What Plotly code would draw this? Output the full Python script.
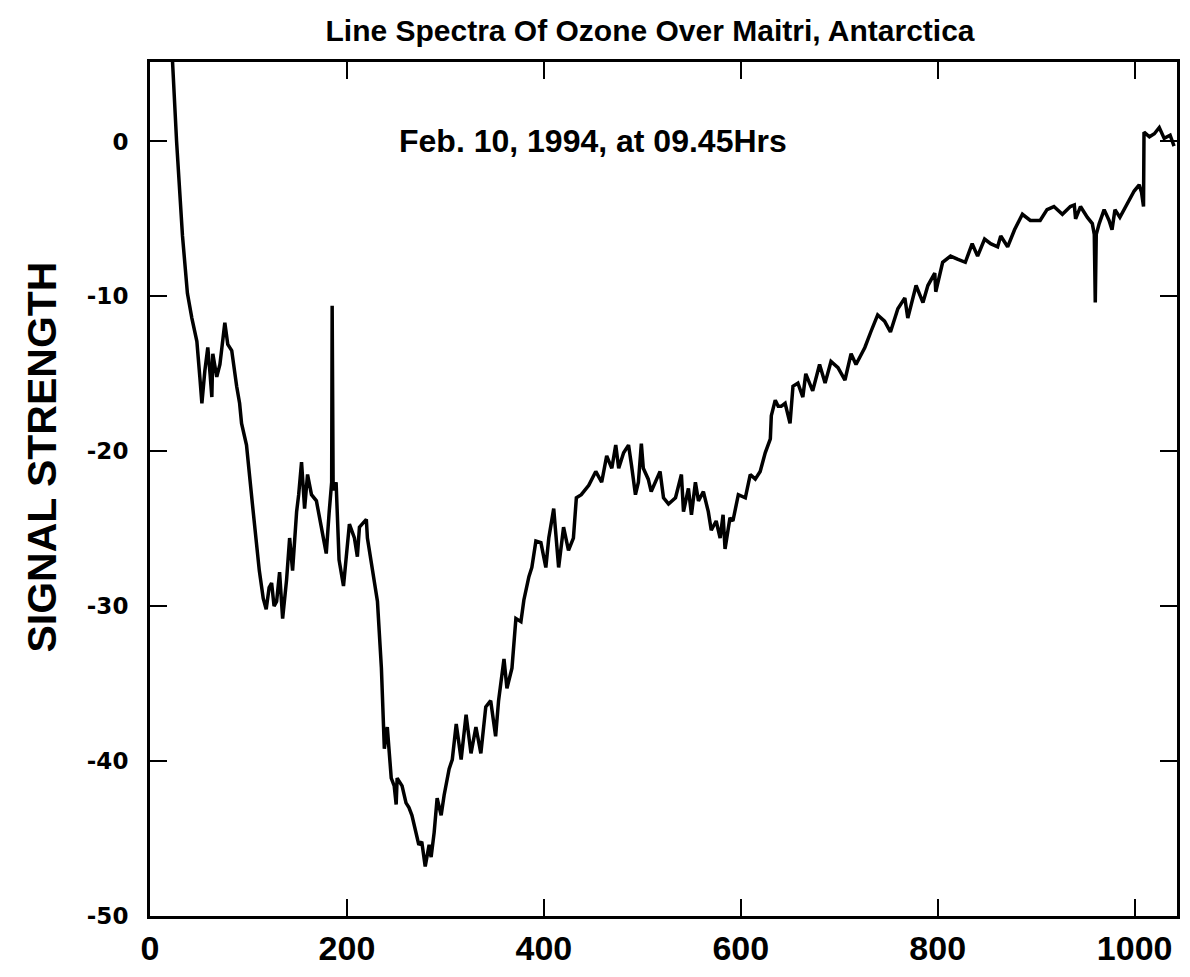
import plotly.graph_objects as go

# Channel number vs signal strength
channel = [21, 23, 27, 33, 38, 42.5, 45.6, 47.6, 50.6, 52.7, 55.7, 58.7, 61, 62.8, 63.8, 67.8, 71, 73, 76, 79,
           83, 88, 91, 93, 98, 104, 111, 115, 118, 121, 123.5, 126, 128.6, 131.6, 134.7, 138.7, 141.8, 144.8,
           148.9, 151, 153.9, 157, 160, 164, 169, 174, 179, 182, 184.5, 185, 186, 189, 192, 196.5, 199.5,
           202.5, 207.6, 210.6, 212.7, 216, 219.7, 220.8, 225.8, 231, 235, 236, 238, 241, 245, 248, 250, 251,
           256, 260, 263, 266, 270, 273, 276, 279.5, 283.5, 285.5, 288.6, 291.6, 295.7, 298.7, 303.8, 307,
           311, 316, 321, 326, 331, 336, 341, 346, 351, 354, 359.5, 362.5, 367.6, 371.6, 376.7, 379.7, 384.8,
           387.8, 391.9, 397, 402, 405, 410, 415, 420, 425, 430, 433, 438, 445.6, 452.7, 458.7, 463.8, 469,
           473, 476, 481, 486, 489, 493, 496, 499, 501, 506, 509, 513, 518, 521.5, 526.6, 533.7, 539.7, 541.8,
           546.8, 549.9, 553.9, 557, 562, 567, 570, 575, 579, 582, 584, 589, 592, 597.5, 604.6, 609.6, 614.7,
           619.7, 624.8, 630, 631, 635, 638, 641, 645, 650, 653, 658, 663, 666, 673, 680, 685.6, 691.6, 698.7,
           705.8, 712, 717, 726, 732, 739, 746, 752, 759.5, 766.6, 769.6, 778, 785, 790, 797, 798, 805, 813,
           820, 828, 835, 840.5, 847.6, 853.7, 860.8, 864, 871, 878, 886, 894, 904, 911, 918, 926.6, 934.7,
           938.7, 940, 945, 952, 957, 959, 960, 961, 964, 969, 974, 977, 980, 985, 992, 999.5, 1004.6, 1007,
           1009, 1009.5, 1015, 1020, 1025, 1030, 1036, 1040]
signal = [7.5, 5.1, 0.0, -6.1, -9.8, -11.4, -12.2, -12.9, -15.2, -16.9, -14.8, -13.3, -15.0, -16.5, -13.7, -15.2,
          -14.4, -13.3, -11.7, -13.1, -13.5, -15.8, -16.9, -18.2, -19.6, -23.4, -27.7, -29.5, -30.2, -28.8,
          -28.5, -30.0, -29.7, -27.8, -30.8, -28.3, -25.6, -27.7, -23.9, -22.8, -20.7, -23.7, -21.5, -22.8,
          -23.2, -24.9, -26.6, -23.9, -22.0, -10.6, -22.5, -22.0, -27.0, -28.7, -26.6, -24.7, -25.6, -26.8,
          -24.9, -24.7, -24.4, -25.6, -27.7, -29.7, -34.0, -36.1, -39.2, -37.8, -41.1, -41.6, -42.8, -41.1,
          -41.6, -42.7, -43.0, -43.5, -44.6, -45.4, -45.2, -46.8, -45.4, -46.2, -44.6, -42.4, -43.5, -42.2,
          -40.5, -39.9, -37.6, -39.9, -37.0, -39.5, -37.8, -39.5, -36.5, -36.1, -38.4, -36.1, -33.4, -35.3,
          -34.0, -30.8, -31.0, -29.6, -28.1, -27.5, -25.8, -25.9, -27.5, -25.6, -23.7, -27.5, -24.9, -26.4,
          -25.6, -23.0, -22.8, -22.2, -21.3, -22.0, -20.3, -21.1, -19.6, -21.1, -20.1, -19.6, -20.9, -22.8,
          -22.0, -19.5, -21.1, -21.8, -22.6, -22.0, -21.3, -23.0, -23.4, -23.0, -21.5, -23.9, -22.4, -24.1,
          -22.0, -23.2, -22.6, -23.9, -25.1, -24.5, -25.6, -24.1, -26.3, -24.3, -24.5, -22.8, -23.0, -21.5,
          -21.8, -21.3, -20.1, -19.2, -17.7, -16.7, -17.1, -17.1, -16.9, -18.2, -15.8, -15.6, -16.5, -15.0,
          -16.1, -14.4, -15.6, -14.2, -14.6, -15.4, -13.7, -14.4, -13.3, -12.3, -11.2, -11.6, -12.3, -10.8,
          -10.1, -11.4, -9.3, -10.4, -9.3, -8.5, -9.7, -7.8, -7.4, -7.6, -7.8, -6.6, -7.4, -6.3, -6.6, -6.8,
          -6.1, -6.8, -5.7, -4.7, -5.1, -5.1, -4.4, -4.2, -4.7, -4.2, -4.1, -5.0, -4.2, -4.9, -5.3, -6.0,
          -10.4, -6.0, -5.3, -4.4, -5.1, -5.7, -4.4, -4.9, -4.1, -3.2, -2.8, -3.3, -4.2, 0.6, 0.3, 0.5, 0.9,
          0.2, 0.4, -0.3]

x_ticks = [0, 200, 400, 600, 800, 1000]
y_ticks = [-50, -40, -30, -20, -10, 0]

title_text = "Line Spectra Of Ozone Over Maitri, Antarctica"
note_text = "Feb. 10, 1994, at 09.45Hrs"
y_title = "SIGNAL STRENGTH"

fig = go.Figure()
fig.add_trace(go.Scatter(x=channel, y=signal, mode="lines",
                         line=dict(color="black", width=3.5), showlegend=False))

fig.update_layout(
    width=1190, height=977,
    margin=dict(l=150, r=10, t=62, b=45),
    paper_bgcolor="white", plot_bgcolor="white",
    title=dict(text=f"<b>{title_text}</b>", x=650 / 1190, xanchor="center", y=1 - 30 / 977,
               yanchor="middle", yref="container", xref="container",
               font=dict(family="Liberation Sans, Arial", size=30, color="black")),
    font=dict(family="Liberation Sans, Arial", color="black"),
)

fig.update_xaxes(range=[0, 1043], tickvals=x_ticks, ticktext=[f"<b>{v}</b>" for v in x_ticks],
                 showgrid=False, zeroline=False, showline=True, linecolor="black", linewidth=3,
                 mirror="ticks", ticks="inside", ticklen=17, tickwidth=2, tickcolor="black",
                 tickfont=dict(family="Liberation Sans, Arial", size=34, color="black"))
fig.update_yaxes(range=[-50, 5.13], tickvals=y_ticks, ticktext=[f"<b>{v}</b>" for v in y_ticks],
                 showgrid=False, zeroline=False, showline=True, linecolor="black", linewidth=3,
                 mirror="ticks", ticks="inside", ticklen=17, tickwidth=2, tickcolor="black",
                 ticklabelstandoff=14,
                 tickfont=dict(family="DejaVu Sans, Arial", size=23, color="black"))

fig.add_annotation(x=450, y=0, xref="x", yref="y", text=f"<b>{note_text}</b>", showarrow=False,
                   xanchor="center", yanchor="middle",
                   font=dict(family="Liberation Sans, Arial", size=32, color="black"))
fig.add_annotation(x=-0.105, y=0.537, xref="paper", yref="paper", text=f"<b>{y_title}</b>",
                   textangle=-90, showarrow=False, xanchor="center", yanchor="middle",
                   font=dict(family="Liberation Sans, Arial", size=41, color="black"))

fig.write_html("out.html")
